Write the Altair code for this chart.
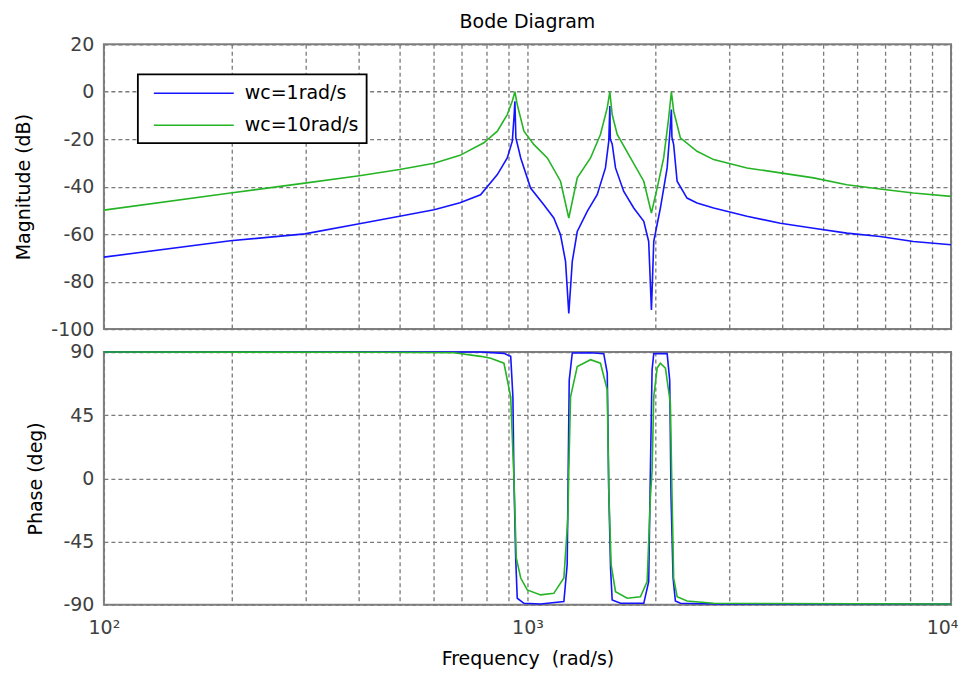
import altair as alt
import pandas as pd

# ---------------- data ----------------
series_names = ["wc=1rad/s", "wc=10rad/s"]
series_colors = ["#1414ff", "#25b425"]

mag_wc1_freq = [100, 199, 298, 401, 499, 602, 693, 775, 849, 896, 921, 930, 934, 939, 946,
                964, 1017, 1093, 1154, 1197, 1230, 1252, 1276, 1311, 1384, 1461, 1528, 1556,
                1565, 1569, 1585, 1614, 1688, 1782, 1882, 1933, 1962, 1987, 2060, 2137, 2167,
                2187, 2193, 2214, 2256, 2381, 2514, 2752, 3298, 3954, 4737, 5675, 6800, 8147, 10000]
mag_wc1_db = [-69.7, -62.8, -59.9, -55.6, -52.5, -49.7, -46.8, -43.4, -34.9, -27.9, -20.8, -10, -4, -19.5, -21.8,
              -27.9, -40.6, -47.6, -53.2, -60.3, -71.5, -93.4, -71.5, -58.9, -50.4, -43.4, -32.1, -20.8,
              -6, -20, -22, -32.1, -42, -49, -54.6, -63.1, -92, -63.1, -49, -32.1, -18,
              -7.5, -19, -22.3, -37.7, -44.8, -46.9, -49, -52.5, -55.4, -57.5, -59.6, -61, -63.1, -64.5]

mag_wc10_freq = [100, 199, 298, 401, 499, 602, 693, 789, 849, 896, 921, 934, 946, 981, 1036,
                 1114, 1197, 1252, 1311, 1409, 1487, 1543, 1565, 1585, 1629, 1751, 1882, 1962,
                 2024, 2097, 2155, 2187, 2214, 2296, 2514, 2752, 3298, 3954, 4737, 5675, 6800, 8147, 10000]
mag_wc10_db = [-49.9, -42.7, -38.5, -35.4, -32.8, -30.1, -26.8, -21.5, -16.6, -9.6, -3.9, 0, -5.4, -16.6, -22.3,
               -27.9, -37.7, -53.2, -36.3, -27.9, -18, -6.8, 0, -9.6, -18, -27.9, -37.7, -51.1,
               -40.6, -27.9, -11, 0, -8.2, -19.4, -25.1, -28.6, -32.1, -34.2, -36.3, -39.2, -41, -42.7, -44.1]

ph_wc1_freq = [100, 775, 880, 913, 924, 929, 938, 946, 981, 1074, 1219, 1241, 1248, 1255, 1276,
               1409, 1514, 1543, 1556, 1571, 1585, 1658, 1882, 1933, 1951, 1969, 1987, 2137, 2167,
               2183, 2207, 2235, 2296, 2803, 10000]
ph_wc1_deg = [90, 90, 89, 86.9, 58, 0.7, -56.7, -85.4, -89, -89.5, -87.8, -61.5, 5.5, 70, 89.3,
              89.5, 88.8, 74.9, -8.9, -63.9, -86.6, -89, -89, -73.5, 5.5, 77.3, 88.8, 88.8, 70,
              -13.6, -71, -87.4, -89, -89.5, -89.5]

ph_wc10_freq = [100, 443, 671, 775, 819, 880, 913, 929, 941, 964, 999, 1074, 1154, 1219, 1246,
                1252, 1264, 1311, 1409, 1487, 1543, 1556, 1576, 1614, 1720, 1848, 1917, 1951, 1969,
                1987, 2024, 2060, 2117, 2175, 2195, 2214, 2256, 2381, 2752, 10000]
ph_wc10_deg = [90, 89.8, 89.5, 86.9, 85.5, 82, 58, 0.7, -56.7, -71, -79.5, -83, -81.9, -71, -28,
               5.5, 58, 79.7, 84.5, 82, 63, -8.9, -61.5, -80.7, -85.4, -84.3, -73.5, -13.6, 5.5,
               58, 78.5, 82, 78.5, 53.4, -13.6, -71, -84.3, -87.4, -89, -89.5]

x_grid_values = [100, 200, 300, 400, 500, 600, 700, 800, 900,
                 1000, 2000, 3000, 4000, 5000, 6000, 7000, 8000, 9000, 10000]
x_label_values = [100, 1000, 10000]
x_label_texts = ["10\u00b2", "10\u00b3", "10\u2074"]
mag_ticks = [20, 0, -20, -40, -60, -80, -100]
phase_ticks = [90, 45, 0, -45, -90]

# ---------------- tables ----------------
def table(freq, vals, name):
    return pd.DataFrame({"freq": freq, "value": vals, "series": name})

mag1 = table(mag_wc1_freq, mag_wc1_db, series_names[0])
mag2 = table(mag_wc10_freq, mag_wc10_db, series_names[1])
ph1 = table(ph_wc1_freq, ph_wc1_deg, series_names[0])
ph2 = table(ph_wc10_freq, ph_wc10_deg, series_names[1])

label_expr = " : ".join(
    f"datum.value == {v} ? '{t}'" for v, t in zip(x_label_values, x_label_texts)
) + " : ''"

FONT = "DejaVu Sans"
W = 848

color_scale = alt.Scale(domain=series_names, range=series_colors)
x_scale = alt.Scale(type="log", domain=[100, 10000], nice=False)

def line_layer(df, ysc, yaxis, xaxis, legend):
    return alt.Chart(df).mark_line(strokeWidth=1.6, clip=False).encode(
        x=alt.X("freq:Q", scale=x_scale, axis=xaxis),
        y=alt.Y("value:Q", scale=ysc, axis=yaxis),
        color=alt.Color("series:N", scale=color_scale, legend=legend),
        order=alt.Order("freq:Q"),
    )

top_x_axis = alt.Axis(values=x_grid_values, labels=False, title=None, grid=True)
# the last label is nudged slightly inward so that it stays inside the page
bottom_x_axis = alt.Axis(
    values=x_grid_values, labelExpr=label_expr, title="Frequency\u00a0 (rad/s)",
    grid=True, labelPadding=14, titlePadding=12, labelFlush=False, labelOverlap=False,
    labelOffset={"condition": {"test": f"datum.value == {x_label_values[-1]}", "value": -9}, "value": 0},
)

mag_scale = alt.Scale(domain=[-100, 20], nice=False, zero=False)
ph_scale = alt.Scale(domain=[-90, 90], nice=False, zero=False)

y_label_expr = "'' + datum.value"
mag_axis = alt.Axis(values=mag_ticks, title="Magnitude (dB)", grid=True, labelExpr=y_label_expr)
ph_axis = alt.Axis(values=phase_ticks, title="Phase (deg)", grid=True, labelExpr=y_label_expr)

# long line-shaped legend symbol (drawn wider than its layout box)
legend = alt.Legend(
    title=None, orient="none", legendX=34, legendY=30,
    strokeColor="#000000", fillColor="#ffffff", padding=8,
    symbolType="M-4,0H4", symbolSize=400, symbolStrokeWidth=1.6,
    symbolOffset=37, labelOffset=40, rowPadding=11,
    labelFont=FONT, labelFontSize=19, labelColor="#000000", labelLimit=400,
)

top = alt.layer(
    line_layer(mag1, mag_scale, mag_axis, top_x_axis, legend),
    line_layer(mag2, mag_scale, mag_axis, top_x_axis, legend),
).properties(
    width=W, height=285,
    title=alt.TitleParams("Bode Diagram", font=FONT, fontSize=19, fontWeight="normal",
                          color="#000000", anchor="middle", offset=3),
)

bottom = alt.layer(
    line_layer(ph1, ph_scale, ph_axis, bottom_x_axis, None),
    line_layer(ph2, ph_scale, ph_axis, bottom_x_axis, None),
).properties(width=W, height=253)

chart = alt.vconcat(top, bottom, spacing=2).properties(
    padding={"left": 5, "top": 4, "right": 0, "bottom": 0}
).configure_view(
    stroke="#808080", strokeWidth=2
).configure_axis(
    labelFont=FONT, labelFontSize=19, labelColor="#404040",
    titleFont=FONT, titleFontSize=19, titleFontWeight="normal", titleColor="#000000",
    domain=False, ticks=False, tickSize=0,
    gridColor="#7a7a7a", gridDash=[4, 3], gridWidth=1.3, gridOpacity=1,
    labelPadding=10, titlePadding=17,
).configure_legend(
    strokeWidth=1.8
)

chart.save("out.html", embed_options={"renderer": "svg", "actions": False})
